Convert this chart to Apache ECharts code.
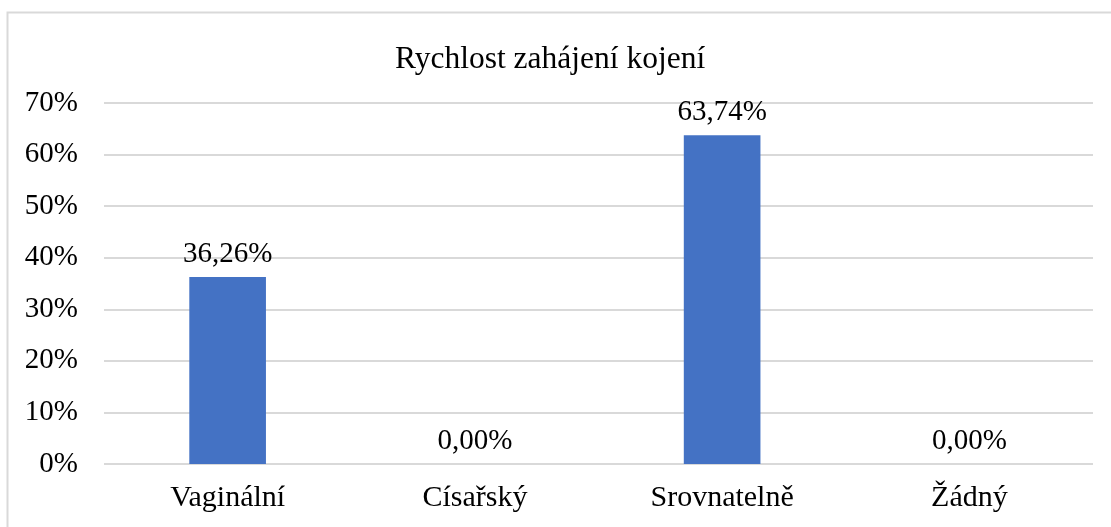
<!DOCTYPE html>
<html>
<head>
<meta charset="utf-8">
<script src="https://cdn.jsdelivr.net/npm/echarts@6/dist/echarts.min.js"></script>
<style>
  html, body { margin: 0; padding: 0; background: #fff; }
  #chart { width: 1111px; height: 527px; }
</style>
</head>
<body>
<div id="chart"></div>
<script>
const categories = ['Vaginální', 'Císařský', 'Srovnatelně', 'Žádný'];
const values = [36.26, 0, 63.74, 0];
const chartTitle = 'Rychlost zahájení kojení';

const fontFamily = '"Liberation Serif", "DejaVu Serif", serif';

const chart = echarts.init(document.getElementById('chart'));
const option = {
    backgroundColor: '#fff',
    animation: false,
    title: {
        text: chartTitle,
        left: 390,
        top: 39,
        textStyle: {
            fontFamily: fontFamily,
            fontSize: 31.5,
            fontWeight: 'normal',
            color: '#000'
        }
    },
    graphic: [
        {
            // outer chart frame (right/bottom edges fall outside the picture)
            type: 'rect',
            shape: { x: 7.5, y: 12.5, width: 1200, height: 600 },
            style: { fill: 'none', stroke: '#d9d9d9', lineWidth: 2 },
            silent: true
        }
    ],
    grid: {
        left: 104,
        right: 18,
        top: 103,
        bottom: 63
    },
    xAxis: {
        type: 'category',
        data: categories,
        axisLine: { show: false },
        axisTick: { show: false },
        axisLabel: {
            fontFamily: fontFamily,
            fontSize: 30,
            color: '#000',
            margin: 19
        }
    },
    yAxis: {
        type: 'value',
        min: 0,
        max: 70,
        interval: 10,
        axisLine: { show: false },
        axisTick: { show: false },
        axisLabel: {
            fontFamily: fontFamily,
            fontSize: 29,
            color: '#000',
            margin: 26,
            padding: [4, 0, 0, 0],
            formatter: '{value}%'
        },
        splitLine: {
            lineStyle: { color: '#d9d9d9', width: 2 }
        }
    },
    series: [
        {
            type: 'bar',
            data: values,
            barWidth: '31%',
            itemStyle: { color: '#4472c4' },
            label: {
                show: true,
                position: 'top',
                distance: 8,
                fontFamily: fontFamily,
                fontSize: 29,
                color: '#000',
                formatter: function (p) {
                    return p.value.toFixed(2).replace('.', ',') + '%';
                }
            }
        }
    ]
};
chart.setOption(option);
</script>
</body>
</html>
